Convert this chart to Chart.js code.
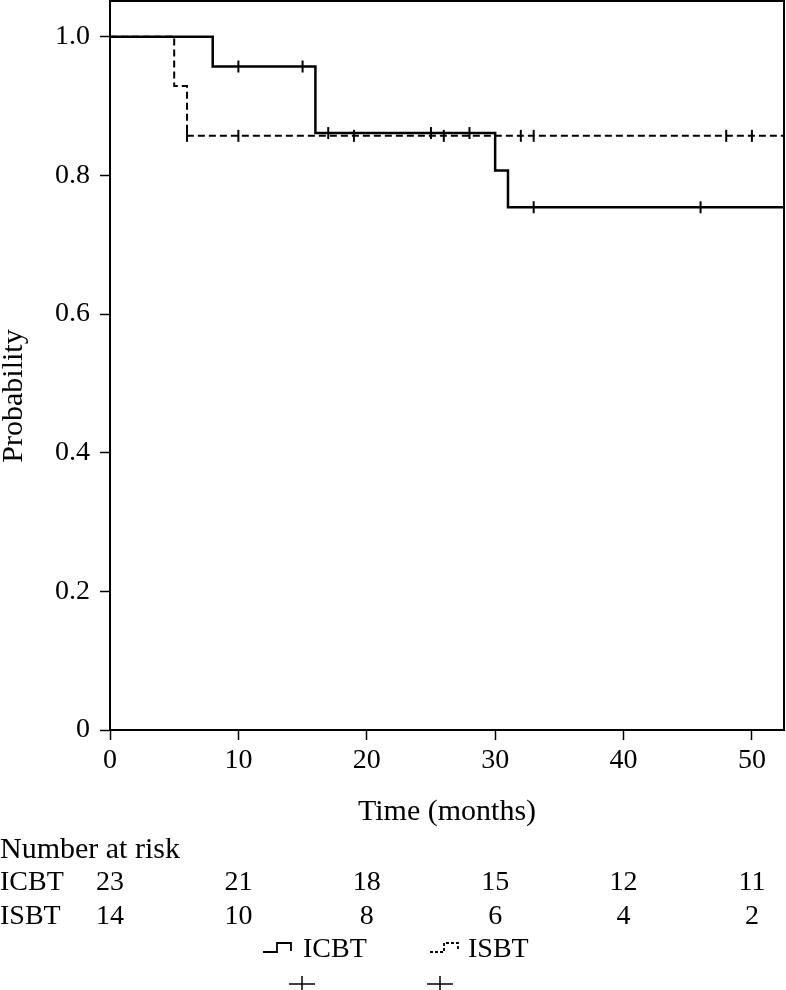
<!DOCTYPE html>
<html>
<head>
<meta charset="utf-8">
<script src="https://cdn.jsdelivr.net/npm/chart.js@4.4.1/dist/chart.umd.min.js"></script>
<style>
  html, body { margin: 0; padding: 0; background: #fff; }
  #km { display: block; }
</style>
</head>
<body>
<canvas id="km" width="786" height="990"></canvas>
<script>
// Kaplan-Meier steps (time in months, survival probability)
const icbtTimes = [0, 8, 16, 30, 31, 52.5];
const icbtSurv = [1, 0.957, 0.861, 0.807, 0.754, 0.754];
const isbtTimes = [0, 5, 6, 52.5];
const isbtSurv = [1, 0.929, 0.857, 0.857];

// censored observations
const icbtCensTimes = [10, 15, 17, 25, 28, 33, 46];
const icbtCensSurv = [0.957, 0.957, 0.861, 0.861, 0.861, 0.754, 0.754];
const isbtCensTimes = [6, 10, 19, 26, 32, 33, 48, 50];
const isbtCensSurv = [0.857, 0.857, 0.857, 0.857, 0.857, 0.857, 0.857, 0.857];

// axes and number at risk table
const xTicks = [0, 10, 20, 30, 40, 50];
const yTicks = [0, 0.2, 0.4, 0.6, 0.8, 1.0];
const riskTimes = [0, 10, 20, 30, 40, 50];
const icbtRisk = [23, 21, 18, 15, 12, 11];
const isbtRisk = [14, 10, 8, 6, 4, 2];
const groups = ['ICBT', 'ISBT'];

const FONT = '"Liberation Serif", "Times New Roman", serif';

function pts(xs, ys) {
    return xs.map((x, i) => ({ x: x, y: ys[i] }));
}

const extras = {
    id: 'extras',
    afterDraw(chart) {
        const ctx = chart.ctx;
        const a = chart.chartArea;
        const xs = chart.scales.x;
        ctx.save();
        // top and right frame
        ctx.strokeStyle = '#000';
        ctx.lineWidth = 2;
        ctx.beginPath();
        ctx.moveTo(a.left, a.top);
        ctx.lineTo(a.right, a.top);
        ctx.lineTo(a.right, a.bottom);
        ctx.stroke();

        ctx.fillStyle = '#000';
        ctx.textBaseline = 'middle';

        // axis titles
        ctx.font = '30px ' + FONT;
        ctx.textAlign = 'center';
        ctx.fillText('Time (months)', (a.left + a.right) / 2, 812);
        ctx.save();
        ctx.translate(14, 396);
        ctx.rotate(-Math.PI / 2);
        ctx.fillText('Probability', 0, 0);
        ctx.restore();

        // number at risk
        ctx.textAlign = 'left';
        ctx.fillText('Number at risk', 0, 850);
        ctx.font = '28px ' + FONT;
        ctx.fillText(groups[0], 0, 883);
        ctx.fillText(groups[1], 0, 917);
        ctx.textAlign = 'center';
        riskTimes.forEach((t, i) => {
            const px = xs.getPixelForValue(t);
            ctx.fillText(String(icbtRisk[i]), px, 883);
            ctx.fillText(String(isbtRisk[i]), px, 917);
        });

        // legend
        ctx.textAlign = 'left';
        ctx.lineWidth = 1.8;
        ctx.beginPath();
        ctx.moveTo(263, 952); ctx.lineTo(277, 952); ctx.lineTo(277, 943);
        ctx.lineTo(291, 943); ctx.lineTo(291, 951);
        ctx.stroke();
        ctx.fillText(groups[0], 303, 950);
        ctx.setLineDash([3, 2]);
        ctx.beginPath();
        ctx.moveTo(430, 952); ctx.lineTo(444, 952); ctx.lineTo(444, 943);
        ctx.lineTo(458, 943); ctx.lineTo(458, 951);
        ctx.stroke();
        ctx.setLineDash([]);
        ctx.fillText(groups[1], 468, 950);
        ctx.lineWidth = 1.5;
        [302, 440].forEach(cx => {
            ctx.beginPath();
            ctx.moveTo(cx - 13, 984); ctx.lineTo(cx + 13, 984);
            ctx.moveTo(cx, 976); ctx.lineTo(cx, 993);
            ctx.stroke();
        });
        ctx.restore();
    }
};

new Chart(document.getElementById('km').getContext('2d'), {
    type: 'line',
    data: {
        datasets: [{
            label: 'ICBT',
            data: pts(icbtTimes, icbtSurv),
            stepped: 'before',
            borderColor: '#000',
            borderWidth: 2.5,
            pointRadius: 0,
            fill: false
        }, {
            label: 'ISBT',
            data: pts(isbtTimes, isbtSurv),
            stepped: 'before',
            borderColor: '#000',
            borderWidth: 2,
            borderDash: [7, 4],
            pointRadius: 0,
            fill: false
        }, {
            label: 'ICBT censored',
            data: pts(icbtCensTimes, icbtCensSurv),
            showLine: false,
            pointStyle: 'line',
            rotation: 90,
            pointRadius: 6,
            pointBorderWidth: 2,
            pointBorderColor: '#000'
        }, {
            label: 'ISBT censored',
            data: pts(isbtCensTimes, isbtCensSurv),
            showLine: false,
            pointStyle: 'line',
            rotation: 90,
            pointRadius: 6,
            pointBorderWidth: 2,
            pointBorderColor: '#000'
        }]
    },
    options: {
        responsive: false,
        animation: false,
        layout: { autoPadding: false, padding: { left: 0, top: 1, right: 2, bottom: 210 } },
        plugins: {
            legend: { display: false },
            tooltip: { enabled: false }
        },
        scales: {
            x: {
                type: 'linear',
                min: 0,
                max: 52.5,
                afterFit: s => {
                    s.height = 50;
                    s.paddingLeft = 0;
                    s.paddingRight = 0;
                },
                afterBuildTicks: s => { s.ticks = xTicks.map(v => ({ value: v })); },
                grid: { drawOnChartArea: false, drawTicks: true, tickLength: 10, tickColor: '#000', tickWidth: 1.5 },
                border: { display: true, color: '#000', width: 2 },
                ticks: {
                    color: '#000',
                    padding: 4,
                    maxRotation: 0,
                    font: { family: FONT, size: 28 }
                }
            },
            y: {
                type: 'linear',
                min: 0,
                max: 1.0515,
                afterFit: s => {
                    s.width = 110;
                    s.paddingTop = 0;
                    s.paddingBottom = 0;
                },
                afterBuildTicks: s => { s.ticks = yTicks.map(v => ({ value: v })); },
                grid: { drawOnChartArea: false, drawTicks: true, tickLength: 10, tickColor: '#000', tickWidth: 1.5 },
                border: { display: true, color: '#000', width: 2 },
                ticks: {
                    color: '#000',
                    padding: 10,
                    font: { family: FONT, size: 28 },
                    callback: v => v === 0 ? '0' : v.toFixed(1)
                }
            }
        }
    },
    plugins: [extras]
});
</script>
</body>
</html>
